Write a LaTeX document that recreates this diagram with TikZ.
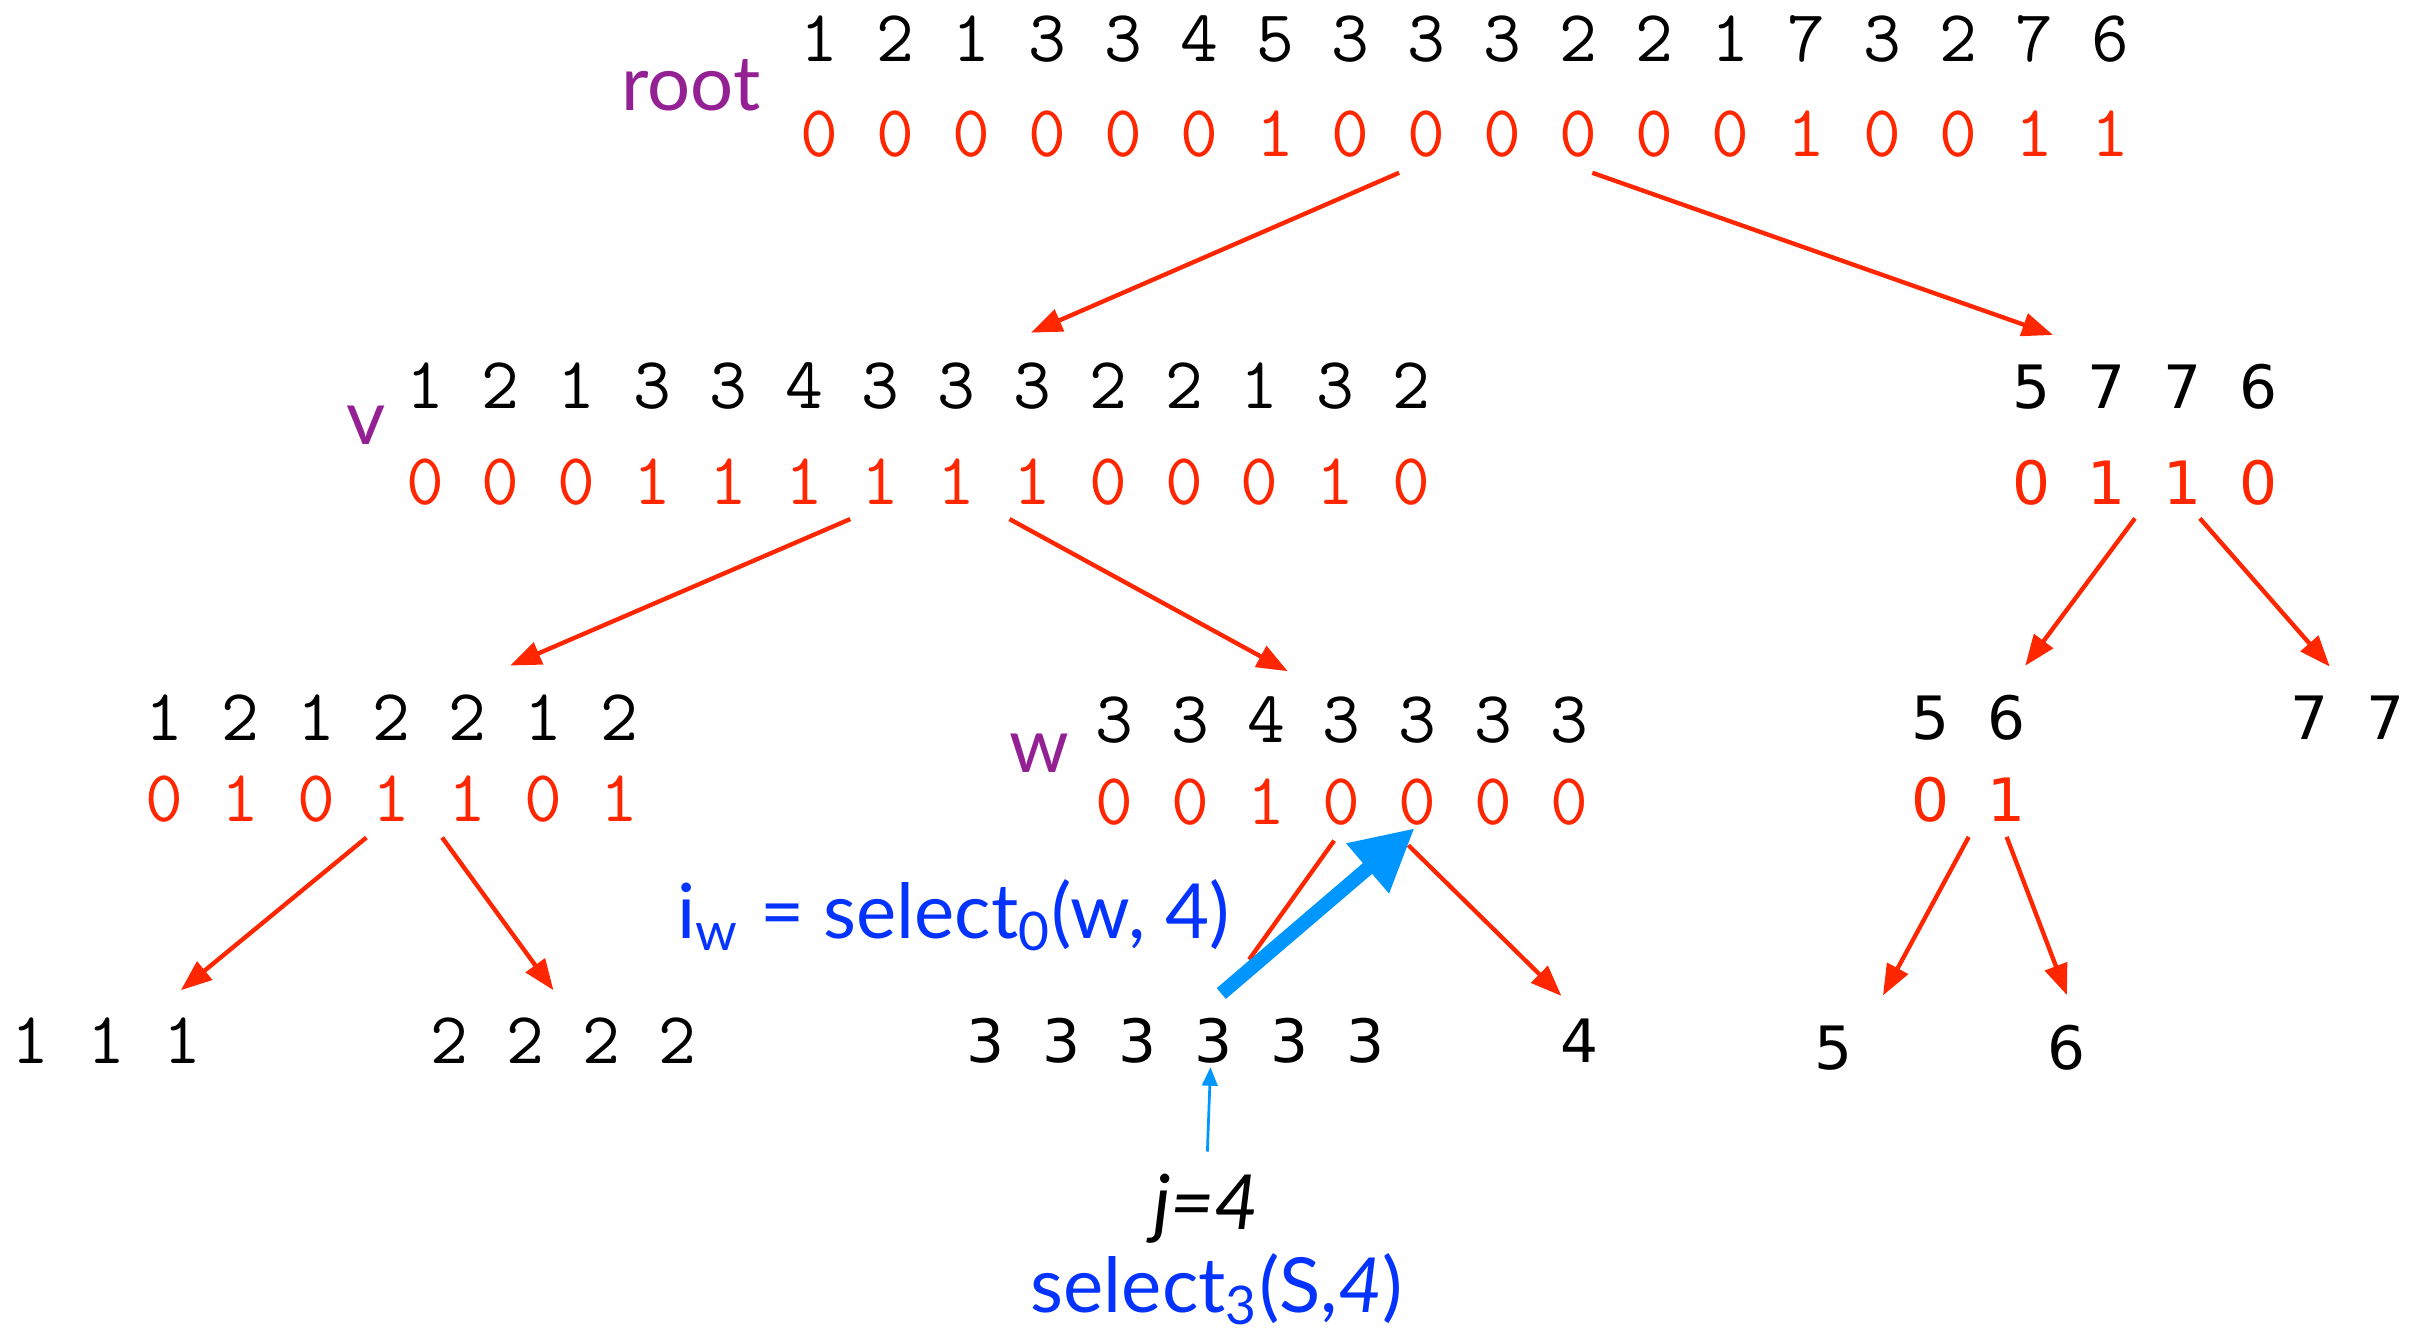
\documentclass[tikz,border=0pt]{standalone}
\usepackage{fontspec}
\setmainfont{Lato}
\newfontfamily\sansdigits{DejaVu Sans}
\usepackage{tikz}
\usetikzlibrary{arrows.meta}
\definecolor{KeyRed}{HTML}{FF2600}
\definecolor{KeyPlum}{HTML}{942193}
\definecolor{KeyBlue}{HTML}{0433FF}
\definecolor{KeyAqua}{HTML}{0096FF}
% one digit per fixed-width slot
\newcommand{\digits}[1]{\foreach \d in {#1}{\makebox[0.491cm]{\d}}}
\tikzset{
    % Sequence of symbols
    seqnode/.style={
        inner sep=0pt,
        font=\ttfamily\fontsize{13.5}{15}\selectfont
    },
    % Bit vector under a sequence
    bitnode/.style={
        seqnode,
        text=KeyRed
    },
    % Sequence set in the sans digits
    seqsans/.style={
        inner sep=0pt,
        font=\sansdigits\fontsize{11}{13}\selectfont
    },
    bitsans/.style={
        seqsans,
        text=KeyRed
    },
    % Node name
    namenode/.style={
        inner sep=0pt,
        text=KeyPlum,
        font=\fontsize{14}{16}\selectfont
    },
    % Query text
    querynode/.style={
        inner sep=0pt,
        text=KeyBlue,
        font=\fontsize{14}{16}\selectfont
    },
    % Tree edge
    edgearrow/.style={
        -{Triangle[length=2mm,width=1.5mm]},
        line width=0.8pt,
        draw=KeyRed
    },
    % Select step
    selectarrow/.style={
        -{Triangle[length=4mm,width=4mm]},
        line width=2.6pt,
        draw=KeyAqua
    },
    % Position pointer
    pointarrow/.style={
        -{Triangle[length=1.2mm,width=1mm]},
        line width=0.5pt,
        draw=KeyAqua
    }
}
\begin{document}
\begin{tikzpicture}
    \useasboundingbox (0,0) rectangle (15.68,-8.6);

    % root
    \node[seqnode] (root-b) at (9.475,-0.25) {\digits{1,2,1,3,3,4,5,3,3,3,2,2,1,7,3,2,7,6}};
    \node[bitnode] (root-s) at (9.475,-0.87) {\digits{0,0,0,0,0,0,1,0,0,0,0,0,0,1,0,0,1,1}};
    \node[namenode] (root-n) at (4.47,-0.55) {root};

    % level 1
    \node[seqnode] (v-b) at (5.94,-2.50) {\digits{1,2,1,3,3,4,3,3,3,2,2,1,3,2}};
    \node[bitnode] (v-s) at (5.94,-3.12) {\digits{0,0,0,1,1,1,1,1,1,0,0,0,1,0}};
    \node[namenode] (v-n) at (2.37,-2.75) {v};
    \node[seqsans] (r-b) at (13.875,-2.50) {\digits{5,7,7,6}};
    \node[bitsans] (r-s) at (13.875,-3.12) {\digits{0,1,1,0}};

    % level 2
    \node[seqnode] (vl-b) at (2.535,-4.64) {\digits{1,2,1,2,2,1,2}};
    \node[bitnode] (vl-s) at (2.535,-5.17) {\digits{0,1,0,1,1,0,1}};
    \node[seqnode] (w-b) at (8.68,-4.66) {\digits{3,3,4,3,3,3,3}};
    \node[bitnode] (w-s) at (8.68,-5.19) {\digits{0,0,1,0,0,0,0}};
    \node[namenode] (w-n) at (6.72,-4.87) {w};
    \node[seqsans] (rl-b) at (12.735,-4.64) {\digits{5,6}};
    \node[bitsans] (rl-s) at (12.735,-5.17) {\digits{0,1}};
    \node[seqsans] (rr-b) at (15.185,-4.64) {\digits{7,7}};

    % leaves
    \node[seqnode] (leaf1) at (0.69,-6.73) {\digits{1,1,1}};
    \node[seqnode] (leaf2) at (3.645,-6.73) {\digits{2,2,2,2}};
    \node[seqsans] (leaf3) at (7.605,-6.73) {\digits{3,3,3,3,3,3}};
    \node[seqsans] (leaf4) at (10.22,-6.73) {\digits{4}};
    \node[seqsans] (leaf5) at (11.86,-6.78) {\digits{5}};
    \node[seqsans] (leaf6) at (13.37,-6.78) {\digits{6}};

    % query labels
    \node[querynode] (iw) at (6.17,-5.92) {i\textsubscript{w} = select\textsubscript{0}(w, 4)};
    \node[inner sep=0pt, font=\fontsize{14}{16}\selectfont\itshape] (j) at (7.80,-7.82) {j=4};
    \node[querynode] (sel) at (7.87,-8.34) {select\textsubscript{3}(S,\textit{4})};

    % tree edges
    \draw[edgearrow] ([shift={(-0.425,-0.09)}]root-s.south) -- ([shift={(0.73,0.19)}]v-b.north);
    \draw[edgearrow] ([shift={(0.825,-0.09)}]root-s.south) -- ([shift={(-0.595,0.18)}]r-b.north);
    \draw[edgearrow] ([shift={(-0.44,-0.08)}]v-s.south) -- ([shift={(0.765,0.18)}]vl-b.north);
    \draw[edgearrow] ([shift={(0.59,-0.08)}]v-s.south) -- ([shift={(-0.35,0.16)}]w-b.north);
    \draw[edgearrow] ([shift={(-0.065,-0.08)}]r-s.south) -- ([shift={(0.365,0.18)}]rl-b.north);
    \draw[edgearrow] ([shift={(0.355,-0.08)}]r-s.south) -- ([shift={(-0.115,0.18)}]rr-b.north);
    \draw[edgearrow] ([shift={(-0.165,-0.09)}]vl-s.south) -- ([shift={(0.48,0.17)}]leaf1.north);
    \draw[edgearrow] ([shift={(0.325,-0.09)}]vl-s.south) -- ([shift={(-0.065,0.17)}]leaf2.north);
    \draw[edgearrow, -] ([shift={(-0.05,-0.09)}]w-s.south) -- ([shift={(0.475,0.37)}]leaf3.north);
    \draw[edgearrow] ([shift={(0.43,-0.12)}]w-s.south) -- ([shift={(-0.12,0.14)}]leaf4.north);
    \draw[edgearrow] ([shift={(0,-0.09)}]rl-s.south) -- ([shift={(0.32,0.19)}]leaf5.north);
    \draw[edgearrow] ([shift={(0.245,-0.09)}]rl-s.south) -- ([shift={(0,0.19)}]leaf6.north);

    % select steps
    \draw[selectarrow] ([shift={(0.295,0.15)}]leaf3.north) -- ([shift={(0.47,-0.01)}]w-s.south);
    \draw[pointarrow] ([shift={(0.01,0.14)}]j.north) -- ([shift={(0.225,-0.02)}]leaf3.south);
\end{tikzpicture}
\end{document}
